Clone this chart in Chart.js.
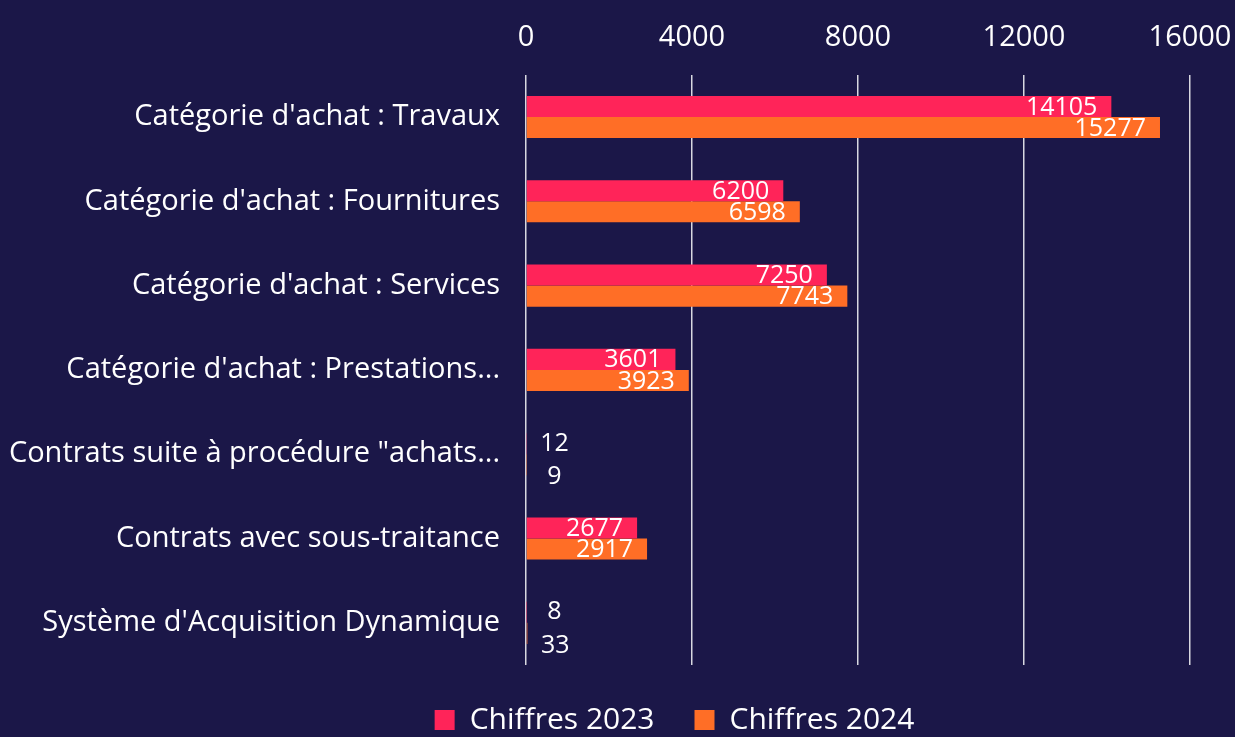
<!DOCTYPE html>
<html>
<head>
<meta charset="utf-8">
<script src="https://cdn.jsdelivr.net/npm/chart.js@4.4.0/dist/chart.umd.min.js"></script>
<style>
  html, body { margin: 0; padding: 0; background: #1b1748; }
  #grafico { width: 1235px; height: 737px; }
</style>
</head>
<body>
<div id="grafico"><canvas></canvas></div>
<script>
const categories = [
    "Catégorie d'achat : Travaux",
    "Catégorie d'achat : Fournitures",
    "Catégorie d'achat : Services",
    "Catégorie d'achat : Prestations...",
    'Contrats suite à procédure "achats...',
    "Contrats avec sous-traitance",
    "Système d'Acquisition Dynamique"
];
const chiffres2023 = [14105, 6200, 7250, 3601, 12, 2677, 8];
const chiffres2024 = [15277, 6598, 7743, 3923, 9, 2917, 33];
const xTicks = [0, 4000, 8000, 12000, 16000];

const fonte = '"Open Sans", sans-serif';

// etiquettes de valeur dans les barres
const etiquettes = {
    id: 'etiquettes',
    afterDatasetsDraw(chart) {
        const ctx = chart.ctx;
        ctx.save();
        ctx.fillStyle = '#ffffff';
        ctx.font = '25px ' + fonte;
        ctx.textBaseline = 'middle';
        chart.data.datasets.forEach((ds, i) => {
            chart.getDatasetMeta(i).data.forEach((bar, j) => {
                const txt = String(ds.data[j]);
                const w = ctx.measureText(txt).width;
                if (bar.x - bar.base > w + 20) {
                    ctx.textAlign = 'right';
                    ctx.fillText(txt, bar.x - 14, bar.y + 1);
                } else {
                    // petites valeurs : hors de la barre, un peu ecartees
                    ctx.textAlign = 'center';
                    ctx.fillText(txt, bar.x + 28, bar.y + (i === 0 ? 0 : 12));
                }
            });
        });
        ctx.restore();
    }
};

// legende plus basse et un peu decalee a droite
const legendeBasse = {
    id: 'legendeBasse',
    beforeLayout(chart) {
        const lg = chart.legend;
        if (lg && !lg._patched) {
            const fit = lg.fit;
            const draw = lg.draw;
            lg.fit = function () { fit.call(this); this.height = 72; };
            lg.draw = function () {
                this.ctx.save();
                this.ctx.translate(57, 0);
                draw.call(this);
                this.ctx.restore();
            };
            lg._patched = true;
        }
    }
};

const grafico = document.querySelector('#grafico canvas');

new Chart(grafico, {
    type: 'bar',
    data: {
        labels: categories,
        datasets: [{
            label: 'Chiffres 2023',
            data: chiffres2023,
            backgroundColor: '#ff2459',
            categoryPercentage: 0.5,
            barPercentage: 1.0
        }, {
            label: 'Chiffres 2024',
            data: chiffres2024,
            backgroundColor: '#ff6e26',
            categoryPercentage: 0.5,
            barPercentage: 1.0
        }]
    },
    plugins: [etiquettes, legendeBasse],
    options: {
        indexAxis: 'y',
        responsive: true,
        maintainAspectRatio: false,
        animation: false,
        layout: { padding: { top: 0, right: 0, left: 0, bottom: 0 } },
        scales: {
            x: {
                position: 'top',
                min: 0,
                max: 16000,
                afterBuildTicks: axis => { axis.ticks = xTicks.map(v => ({ value: v })); },
                afterFit: axis => { axis.paddingRight = 45; },
                grid: { color: '#d8d8e0', lineWidth: 1.5, drawTicks: false },
                border: { display: false },
                ticks: {
                    color: '#ffffff',
                    font: { family: fonte, size: 29 },
                    padding: 20,
                    maxRotation: 0,
                    callback: v => String(v)
                }
            },
            y: {
                afterFit: axis => { axis.width = 526; },
                grid: { display: false },
                border: { display: false },
                ticks: {
                    color: '#ffffff',
                    font: { family: fonte, size: 29 },
                    padding: 18
                }
            }
        },
        plugins: {
            legend: {
                position: 'bottom',
                labels: {
                    color: '#ffffff',
                    font: { family: fonte, size: 30 },
                    boxWidth: 20,
                    boxHeight: 20,
                    padding: 40
                }
            },
            tooltip: { enabled: false }
        }
    }
});
</script>
</body>
</html>
